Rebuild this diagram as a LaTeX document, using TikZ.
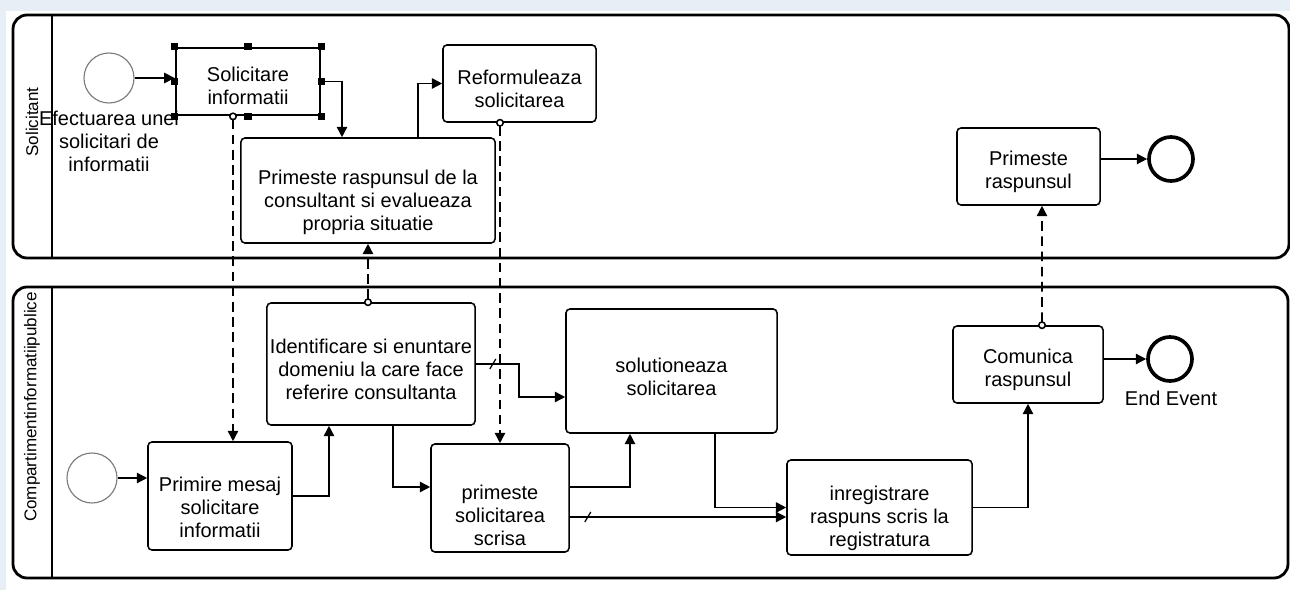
\documentclass[tikz,border=0pt]{standalone}
\usepackage{fontspec}
\setmainfont{Liberation Sans}
\usetikzlibrary{arrows.meta, calc, positioning}
\definecolor{bgblue}{HTML}{E8EEF5}
\definecolor{evgray}{HTML}{7A7A7A}

\begin{document}
\begin{tikzpicture}[x=0.025cm, y=-0.025cm, >={Triangle[length=2.6mm,width=2.6mm]},
  task/.style={draw, line width=1.1pt, rounded corners=1mm, align=center, inner sep=0pt,
    font=\fontsize{14.2}{16.4}\selectfont},
  tdown/.style={text height=#1},
  startev/.style={circle, draw=evgray, line width=0.8pt, minimum size=1.25cm, inner sep=0pt},
  endev/.style={circle, draw, line width=2.6pt, minimum size=1.1cm, inner sep=0pt},
  seq/.style={->, line width=1.1pt},
  msg/.style={{Circle[fill=white,length=2mm]}-{Triangle[length=2.6mm,width=2.6mm]}, line width=1.1pt,
    dash pattern=on 2.4mm off 1.4mm, shorten <=-1mm},
  pool/.style={line width=2pt, rounded corners=0.35cm},
  lanelbl/.style={rotate=90, font=\fontsize{12.1}{14}\selectfont},
  handle/.style={fill, inner sep=0pt, minimum size=0.19cm},
  lbl/.style={align=center, font=\fontsize{14.2}{16.4}\selectfont}]
\useasboundingbox (0,0) rectangle (1290,590);
\fill[bgblue] (0,0) rectangle (1290,590);
\fill[white] (6,11) rectangle (1290,590);

% pools
\draw[pool] (13,15) rectangle (1289,258);
\draw[line width=1.4pt] (52,15) -- (52,258);
\draw[pool] (13,287) rectangle (1288,578);
\draw[line width=1.4pt] (52,287) -- (52,578);
\node[lanelbl] at (32,122) (laneS) {Solicitant};
\node[lanelbl] at (32,407) (laneC) {Compartimentinformatiipublice};

% Solicitant
\node[startev] at (109,78) (start1) {};
\node[lbl] at (109,141) (start1lbl) {Efectuarea unei\\solicitari de\\informatii};
\node[task, tdown=33.2pt, line width=2pt, rounded corners=0pt, minimum width=3.6cm, minimum height=1.675cm] at (248,81.5) (solic) {Solicitare\\informatii};
\node[task, tdown=59.6pt, minimum width=6.35cm, minimum height=2.625cm] at (368,190.5) (primrasp) {Primeste raspunsul de la\\consultant si evalueaza\\propria situatie};
\node[task, tdown=33.9pt, minimum width=3.825cm, minimum height=1.925cm] at (519.5,83.5) (reform) {Reformuleaza\\solicitarea};
\node[task, tdown=33.9pt, minimum width=3.575cm, minimum height=1.925cm] at (1028.5,166.5) (primr2) {Primeste\\raspunsul};
\node[endev] at (1171,159) (end1) {};

% Compartiment informatii publice
\node[startev] at (92,478) (start2) {};
\node[task, tdown=58.8pt, minimum width=3.6cm, minimum height=2.7cm] at (220,496) (primire) {Primire mesaj\\solicitare\\informatii};
\node[task, tdown=50.3pt, minimum width=5.2cm, minimum height=3.05cm] at (371,364) (ident) {Identificare si enuntare\\domeniu la care face\\referire consultanta};
\node[task, tdown=34.6pt, minimum width=5.275cm, minimum height=3.1cm] at (671.5,371) (solut) {solutioneaza\\solicitarea};
\node[task, tdown=67.4pt, minimum width=3.45cm, minimum height=2.7cm] at (500,498) (scrisa) {primeste\\solicitarea\\scrisa};
\node[task, tdown=58.1pt, minimum width=4.625cm, minimum height=2.375cm] at (879.5,507.5) (inreg) {inregistrare\\raspuns scris la\\registratura};
\node[task, tdown=33.9pt, minimum width=3.75cm, minimum height=1.925cm] at (1028,364.5) (comun) {Comunica\\raspunsul};
\node[endev] at (1170,359) (end2) {};
\node[lbl] at (1171,398) (end2lbl) {End Event};

% sequence flows
\draw[seq] (start1.east) -- (start1.east -| solic.west);
\draw[seq] (solic.east) -| ($(primrasp.north)+(-26,0)$);
\draw[seq] ($(primrasp.north)+(50,0)$) |- (reform.west);
\draw[seq] (end1.west -| primr2.east) -- (end1.west);
\draw[seq] (start2.east) -- (start2.east -| primire.west);
\draw[seq] (primire.east) -| ($(ident.south)+(-42,0)$);
\draw[seq] ($(ident.south)+(22,0)$) |- ($(scrisa.west)+(0,-11)$);
\draw[seq] (ident.east) -- ++(43,0) |- ($(solut.west)+(0,26)$);
\draw[seq] ($(scrisa.east)+(0,-11)$) -| ($(solut.south)+(-41.5,0)$);
\draw[seq] ($(scrisa.east)+(0,19)$) -- ($(inreg.west)+(0,9.5)$);
\draw[seq] ($(solut.south)+(43.5,0)$) |- (inreg.west);
\draw[seq] (inreg.east) -| (comun.south);
\draw[seq] (end2.west -| comun.east) -- (end2.west);
% default flow marks
\draw[line width=0.9pt] ($(ident.east)+(14,5)$) -- ++(6,-10);
\draw[line width=0.9pt] ($(scrisa.east)+(15,24)$) -- ++(6,-10);

% message flows
\draw[msg] ($(solic.south)+(-15,0)$) -- ($(primire.north)+(13,0)$);
\draw[msg] (scrisa.north |- reform.south) -- (scrisa.north);
\draw[msg] (ident.north -| primrasp.south) -- (primrasp.south);
\draw[msg] ($(comun.north)+(14,0)$) -- ($(primr2.south)+(13.5,0)$);

\foreach \a [count=\i] in {north west,north,north east,east,south east,south,south west,west}
  \node[handle] at (solic.\a) (h\i) {};
\end{tikzpicture}
\end{document}
